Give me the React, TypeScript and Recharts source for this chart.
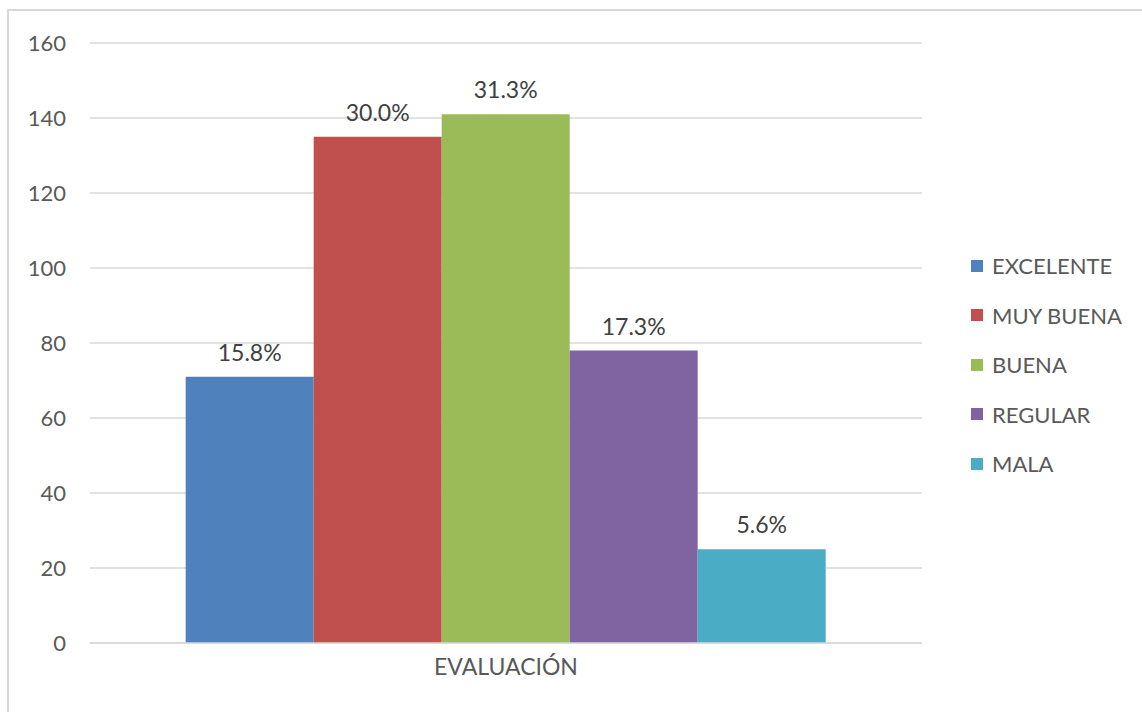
import { BarChart, Bar, XAxis, YAxis, CartesianGrid, LabelList } from "recharts";

const category = "EVALUACIÓN";
const seriesNames = ["EXCELENTE", "MUY BUENA", "BUENA", "REGULAR", "MALA"];
const seriesValues = [71, 135, 141, 78, 25];
const pctLabels = ["15.8%", "30.0%", "31.3%", "17.3%", "5.6%"];
const seriesColors = ["#4F81BD", "#C0504D", "#9BBB59", "#8064A2", "#4BACC6"];
const yTicks = [0, 20, 40, 60, 80, 100, 120, 140, 160];

const row: Record<string, string | number> = { name: category };
seriesNames.forEach((s, i) => {
  row[s] = seriesValues[i];
});
const data = [row];

const FONT = "Lato, 'Noto Sans', sans-serif";

export default function App() {
  return (
    <div
      style={{
        position: "fixed",
        left: 0,
        top: 0,
        width: 1142,
        height: 712,
        overflow: "hidden",
        background: "#fff",
      }}
    >
      <div
        style={{
          position: "absolute",
          left: 7,
          top: 9,
          width: 1200,
          height: 800,
          border: "2px solid #d9d9d9",
        }}
      />
      <div style={{ position: "absolute", left: 0, top: 0 }}>
        <BarChart
          width={1142}
          height={712}
          data={data}
          margin={{ top: 43, right: 220, bottom: 39, left: 30 }}
          barCategoryGap="11.5%"
          barGap={0}
        >
          <CartesianGrid
            vertical={false}
            stroke="#d9d9d9"
            strokeWidth={1.5}
          />
          <XAxis
            dataKey="name"
            height={30}
            axisLine={{ stroke: "#d9d9d9", strokeWidth: 1.5 }}
            tickLine={false}
            tick={{ fill: "#595959", fontSize: 23, fontFamily: FONT }}
            tickMargin={10}
          />
          <YAxis
            domain={[0, 160]}
            ticks={yTicks}
            width={60}
            axisLine={false}
            tickLine={false}
            tickSize={0}
            tickMargin={24}
            tick={{ fill: "#595959", fontSize: 22, fontFamily: FONT }}
          />
          {seriesNames.map((s, i) => (
            <Bar
              key={s}
              dataKey={s}
              fill={seriesColors[i]}
              isAnimationActive={false}
            >
              <LabelList
                position="top"
                offset={16}
                formatter={() => pctLabels[i]}
                fill="#404040"
                fontSize={23}
                fontFamily={FONT}
              />
            </Bar>
          ))}
        </BarChart>
      </div>
      <div
        style={{
          position: "absolute",
          left: 971,
          top: 241,
          fontFamily: FONT,
        }}
      >
        {seriesNames.map((s, i) => (
          <div
            key={s}
            style={{ display: "flex", alignItems: "center", height: 49.5 }}
          >
            <span
              style={{
                width: 12,
                height: 12,
                background: seriesColors[i],
                display: "inline-block",
                marginRight: 9,
              }}
            />
            <span style={{ fontSize: 22, color: "#595959" }}>{s}</span>
          </div>
        ))}
      </div>
    </div>
  );
}
